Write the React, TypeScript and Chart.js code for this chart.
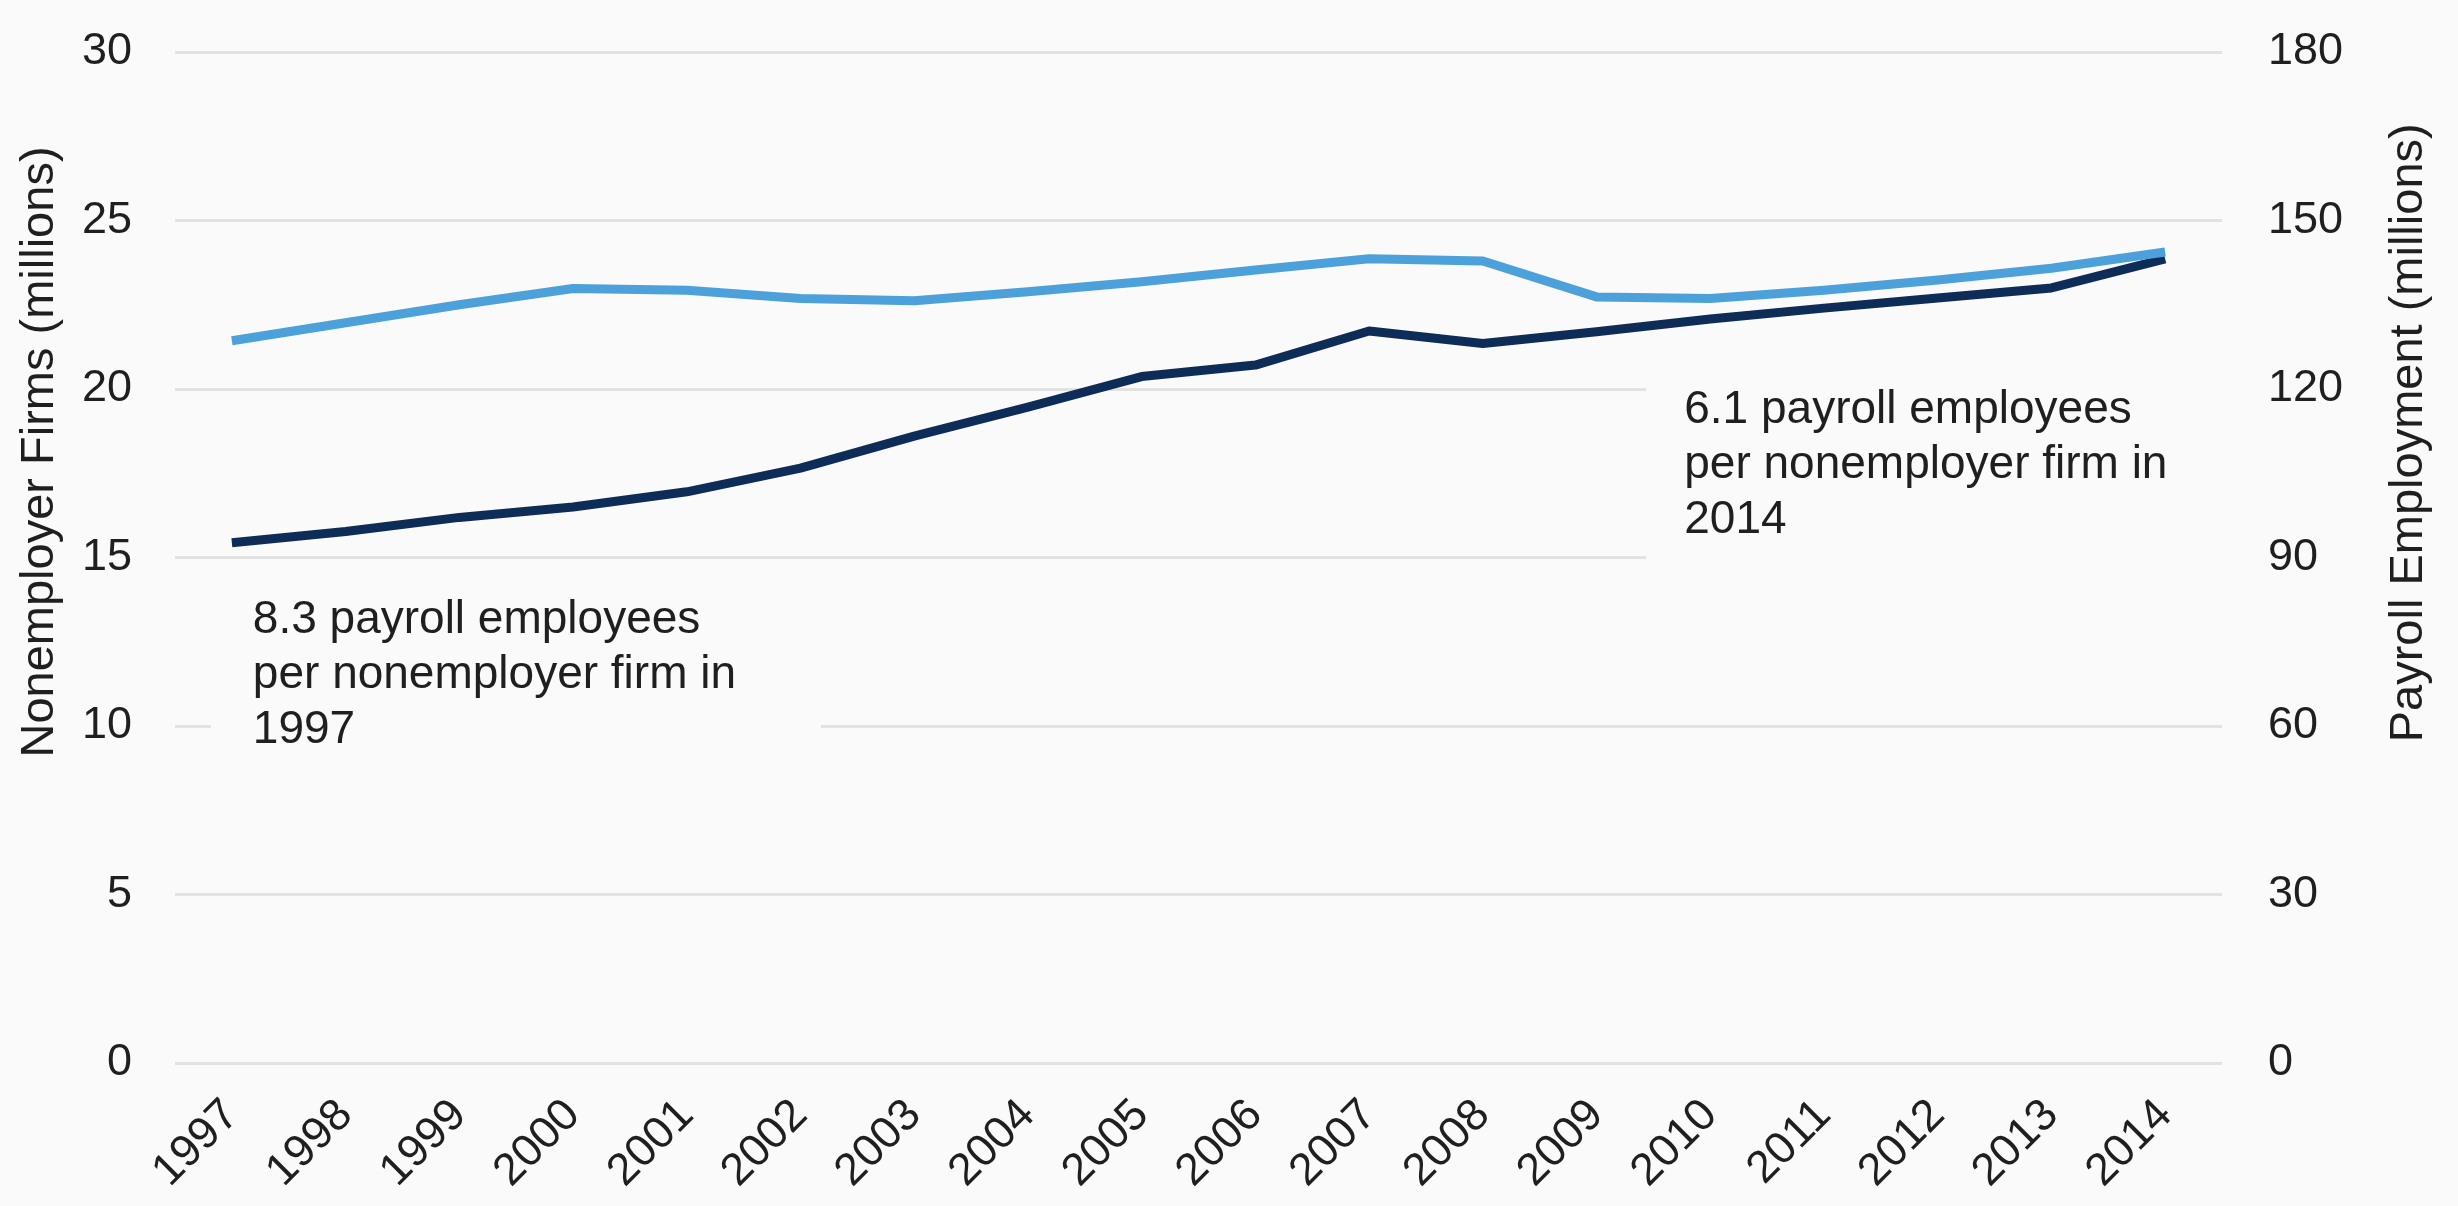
import React, { useEffect, useRef } from "react";
import Chart from "chart.js/auto";

const YEARS = ["1997","1998","1999","2000","2001","2002","2003","2004","2005","2006","2007","2008","2009","2010","2011","2012","2013","2014"];
const NONEMPLOYER_FIRMS = [15.44, 15.77, 16.19, 16.5, 16.95, 17.65, 18.6, 19.46, 20.37, 20.71, 21.72, 21.35, 21.7, 22.08, 22.4, 22.7, 23.0, 23.86];
const PAYROLL_EMPLOYMENT = [128.6, 131.8, 135.0, 137.9, 137.6, 136.1, 135.7, 137.3, 139.1, 141.2, 143.2, 142.8, 136.4, 136.1, 137.6, 139.4, 141.5, 144.4];
const LEFT_TICKS = { min: 0, max: 30, step: 5 };
const RIGHT_TICKS = { min: 0, max: 180, step: 30 };
const LEFT_TITLE = "Nonemployer Firms (millions)";
const RIGHT_TITLE = "Payroll Employment (millions)";
const NOTE_1997 = ["8.3 payroll employees", "per nonemployer firm in", "1997"];
const NOTE_2014 = ["6.1 payroll employees", "per nonemployer firm in", "2014"];

const BG = "#fafafa";
const FONT = "'Liberation Sans', Arial, sans-serif";
const TEXT = "#1f1f1f";
const LIGHT = "#4ca1da";
const DARK = "#0e2c58";
const CLEAR = "rgba(0,0,0,0)";

const notesPlugin = {
  id: "notes",
  beforeDraw(chart: any) {
    const ctx = chart.ctx;
    ctx.save();
    ctx.fillStyle = BG;
    ctx.fillRect(0, 0, chart.width, chart.height);
    ctx.restore();
  },
  beforeDatasetsDraw(chart: any) {
    const { ctx, chartArea } = chart;
    const x = chart.scales.x;
    const yL = chart.scales.yL;
    const yR = chart.scales.yR;
    const lh = 55;
    ctx.save();
    // left note (1997)
    const lx = x.getPixelForValue(0) + 21;
    const ly = yL.getPixelForValue(12.76);
    ctx.fillStyle = BG;
    ctx.fillRect(lx - 42, ly - 55, 610, lh * 2 + 95);
    // right note (2014)
    const rx = x.getPixelForValue(13) - 26;
    const ry = yL.getPixelForValue(19.0);
    ctx.fillRect(rx - 38, ry - 55, chartArea.right - (rx - 38), lh * 2 + 95);

    ctx.fillStyle = TEXT;
    ctx.font = `46px ${FONT}`;
    ctx.textAlign = "left";
    ctx.textBaseline = "alphabetic";
    NOTE_1997.forEach((t, i) => ctx.fillText(t, lx, ly + i * lh));
    NOTE_2014.forEach((t, i) => ctx.fillText(t, rx, ry + i * lh));

    // axis titles, both reading bottom-to-top
    ctx.font = `47px ${FONT}`;
    ctx.textAlign = "center";
    ctx.textBaseline = "middle";
    ctx.save();
    ctx.translate(yL.left + 40, yL.getPixelForValue(18.13));
    ctx.rotate(-Math.PI / 2);
    ctx.fillText(LEFT_TITLE, 0, 0);
    ctx.restore();
    ctx.save();
    ctx.translate(yR.right - 49, yL.getPixelForValue(18.7));
    ctx.rotate(-Math.PI / 2);
    ctx.fillText(RIGHT_TITLE, 0, 0);
    ctx.restore();
    ctx.restore();
  },
};

export default function App() {
  const ref = useRef<HTMLCanvasElement>(null);
  useEffect(() => {
    document.body.style.margin = "0";
    document.body.style.background = BG;
    const tickFont = { family: FONT, size: 45 };
    const chart = new Chart(ref.current as HTMLCanvasElement, {
      type: "line",
      data: {
        labels: YEARS,
        datasets: [
          {
            label: "Payroll Employment",
            data: PAYROLL_EMPLOYMENT,
            yAxisID: "yR",
            borderColor: LIGHT,
            borderWidth: 9,
            pointRadius: 0,
            tension: 0,
            borderJoinStyle: "round",
          },
          {
            label: "Nonemployer Firms",
            data: NONEMPLOYER_FIRMS,
            yAxisID: "yL",
            borderColor: DARK,
            borderWidth: 9,
            pointRadius: 0,
            tension: 0,
            borderJoinStyle: "round",
          },
        ],
      },
      options: {
        animation: false,
        responsive: true,
        maintainAspectRatio: false,
        devicePixelRatio: 1,
        layout: { padding: { top: 52, left: 0, right: 0, bottom: 0 } },
        plugins: { legend: { display: false }, tooltip: { enabled: false } },
        scales: {
          x: {
            type: "category",
            offset: true,
            grid: { display: false },
            border: { display: false },
            ticks: {
              font: tickFont,
              color: TEXT,
              minRotation: 45,
              maxRotation: 45,
              autoSkip: false,
              padding: 18,
            },
            afterFit(s: any) {
              s.height = 143;
            },
          },
          yL: {
            type: "linear",
            position: "left",
            min: LEFT_TICKS.min,
            max: LEFT_TICKS.max,
            ticks: { stepSize: LEFT_TICKS.step, font: tickFont, color: TEXT, padding: 3 },
            grid: { color: "#e2e2e2", lineWidth: 3, drawTicks: true, tickLength: 40, tickColor: CLEAR },
            border: { display: false },
            afterFit(s: any) {
              s.width = 175;
            },
          },
          yR: {
            type: "linear",
            position: "right",
            min: RIGHT_TICKS.min,
            max: RIGHT_TICKS.max,
            ticks: { stepSize: RIGHT_TICKS.step, font: tickFont, color: TEXT, padding: 3 },
            grid: { display: true, color: CLEAR, drawOnChartArea: false, drawTicks: true, tickLength: 43, tickColor: CLEAR },
            border: { display: false },
            afterFit(s: any) {
              s.width = 236;
            },
          },
        },
      },
      plugins: [notesPlugin],
    });
    return () => chart.destroy();
  }, []);
  return (
    <div style={{ width: 2458, height: 1206, position: "relative" }}>
      <canvas ref={ref} />
    </div>
  );
}
